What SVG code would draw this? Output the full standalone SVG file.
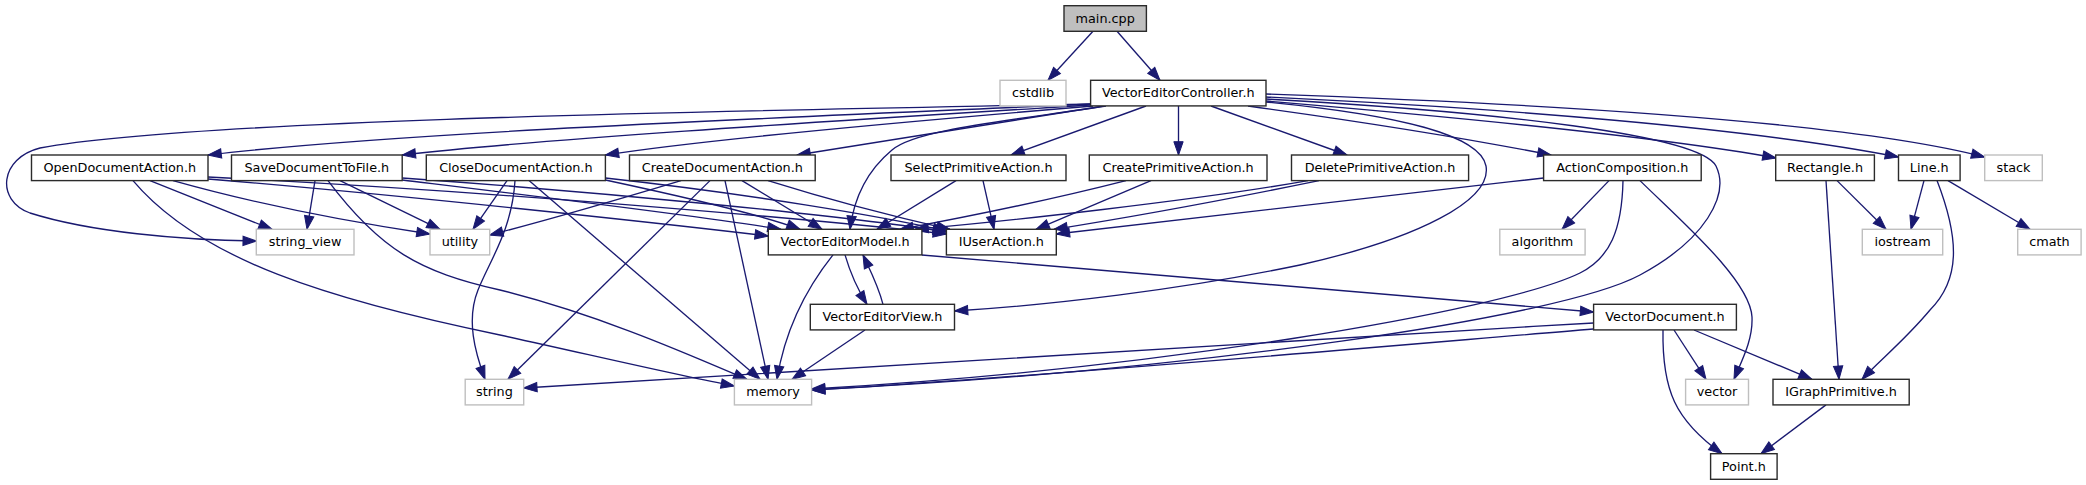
<svg xmlns="http://www.w3.org/2000/svg" width="2086" height="485" viewBox="0 0 2086 485">
<style>
.n rect{fill:#fff;stroke:#2b2b2b;stroke-width:1.4}
.x rect{fill:#fff;stroke:#bfbfbf;stroke-width:1.4}
.r rect{fill:#bfbfbf;stroke:#2b2b2b;stroke-width:1.4}
text{font-family:"DejaVu Sans","Liberation Sans",sans-serif;font-size:12.8px;fill:#000;text-anchor:middle}
#edges path{fill:none;stroke:#191970;stroke-width:1.33;marker-end:url(#a)}
</style>
<defs>
<marker id="a" markerUnits="userSpaceOnUse" markerWidth="16" markerHeight="12" refX="13.3" refY="4.67" orient="auto" overflow="visible">
<path d="M0,0L13.3,4.67L0,9.33z" fill="#191970" stroke="#191970" stroke-width="1"/>
</marker>
</defs>
<rect width="2086" height="485" fill="#fff"/>
<g id="edges">
<path d="M1093,31.3 L1048,80.3"/>
<path d="M1117,31.3 L1160,80.3"/>
<path d="M1091,104 C800,110 200,118 40,148 C0,158 -5,200 30,213 C90,232 180,240 256.3,241"/>
<path d="M1091,104 C800,117 400,132 208,155"/>
<path d="M1091,105 C850,120 550,138 402.2,155"/>
<path d="M1093,106 C900,122 700,140 605.4,155"/>
<path d="M1104,106 L797,155"/>
<path d="M1106,106 C1000,122 915,130 892,150 C862,175 853,205 850,229.3"/>
<path d="M1146,106 L1011,155"/>
<path d="M1178.5,106 L1178.5,155"/>
<path d="M1211,106 L1347,155"/>
<path d="M1248,106 C1350,120 1450,135 1551,155"/>
<path d="M1266,101 C1420,114 1650,135 1776,158"/>
<path d="M1266,97 C1500,108 1750,128 1898.5,157"/>
<path d="M1266,94 C1550,104 1850,122 1984.7,157"/>
<path d="M1266,102 C1400,115 1480,135 1486,166 C1492,200 1420,238 1300,265 C1180,290 1050,305 954.5,311"/>
<path d="M1266,99 C1500,112 1700,135 1716,166 C1730,195 1705,240 1640,275 C1560,318 1200,370 811.6,390"/>
<path d="M150,180.6 L272,229.3"/>
<path d="M173,180.6 C260,205 350,222 430,234"/>
<path d="M133,180.6 C200,260 330,300 500,335 C600,357 680,376 734.4,386"/>
<path d="M208,179 C400,195 650,222 768.3,236"/>
<path d="M208,177 C500,192 800,218 946.4,234"/>
<path d="M315,180.6 L307,229.3"/>
<path d="M340,180.6 L440,229.3"/>
<path d="M328,180.6 C380,250 420,272 500,290 C600,315 690,355 747,379.3"/>
<path d="M402.2,180 C550,198 700,216 781,229.3"/>
<path d="M402.2,178 C600,192 850,216 946.4,232"/>
<path d="M507,180.6 L473,229.3"/>
<path d="M515,180.6 C512,230 490,260 478,290 C466,320 475,352 485,379.3"/>
<path d="M529,180.6 L760,379.3"/>
<path d="M605.4,180 C680,196 760,214 800,229.3"/>
<path d="M605.4,178 C750,194 880,216 946.4,231"/>
<path d="M681,180.6 C600,205 540,222 489.7,235"/>
<path d="M710,180.6 L508,379.3"/>
<path d="M725,180.6 L768,379.3"/>
<path d="M742,180.6 L822,229.3"/>
<path d="M768,180.6 C830,200 900,218 950,229.3"/>
<path d="M956,180.6 L877,229.3"/>
<path d="M983,180.6 L994,229.3"/>
<path d="M1126,180.6 C1050,200 950,220 900,229.3"/>
<path d="M1151,180.6 L1036,229.3"/>
<path d="M1308,180.6 C1200,200 1000,222 915,229.3"/>
<path d="M1319,180.6 C1200,205 1100,222 1054,229.3"/>
<path d="M1543.6,178 C1350,200 1150,222 1056.3,234"/>
<path d="M1609,180.6 L1562,229.3"/>
<path d="M1623,180.6 C1622,230 1610,258 1580,273 C1500,312 1150,370 811.6,389"/>
<path d="M1640,180.6 C1680,220 1750,280 1752,317 C1753,340 1742,360 1734,379.3"/>
<path d="M1837,180.6 L1886,229.3"/>
<path d="M1826,180.6 L1839,379.3"/>
<path d="M1924,180.6 L1911,229.3"/>
<path d="M1948,180.6 L2030,229.3"/>
<path d="M1937,180.6 C1960,240 1960,280 1930,310 C1905,340 1880,360 1862,379.3"/>
<path d="M833,254.9 C805,290 785,330 777,379.3"/>
<path d="M845,254.9 C850,272 858,290 867,304.3"/>
<path d="M921.9,255 L1593.6,312"/>
<path d="M883,304.3 C878,285 870,270 863,254.9"/>
<path d="M865,330 L792,379.3"/>
<path d="M1593.6,323 C1200,345 800,372 523.7,388"/>
<path d="M1593.6,329 C1400,345 1000,380 811.6,390"/>
<path d="M1674,330 L1706,379.3"/>
<path d="M1694,330 L1812,379.3"/>
<path d="M1663,330 C1662,390 1675,420 1722,453.7"/>
<path d="M1826,404.9 L1761,453.7"/>
</g>
<g id="main_cpp" class="r"><rect x="1064" y="5.7" width="82.4" height="25.6"/><text x="1105.2" y="22.7">main.cpp</text></g>
<g id="cstdlib" class="x"><rect x="1000" y="80.3" width="66" height="25.6"/><text x="1033" y="97.3">cstdlib</text></g>
<g id="VectorEditorController_h" class="n"><rect x="1090.6" y="80.3" width="175.4" height="25.6"/><text x="1178.3" y="97.3">VectorEditorController.h</text></g>
<g id="OpenDocumentAction_h" class="n"><rect x="31.5" y="155" width="176.5" height="25.6"/><text x="119.75" y="172">OpenDocumentAction.h</text></g>
<g id="SaveDocumentToFile_h" class="n"><rect x="231.5" y="155" width="170.7" height="25.6"/><text x="316.85" y="172">SaveDocumentToFile.h</text></g>
<g id="CloseDocumentAction_h" class="n"><rect x="426.3" y="155" width="179.1" height="25.6"/><text x="515.85" y="172">CloseDocumentAction.h</text></g>
<g id="CreateDocumentAction_h" class="n"><rect x="629.5" y="155" width="185.7" height="25.6"/><text x="722.35" y="172">CreateDocumentAction.h</text></g>
<g id="SelectPrimitiveAction_h" class="n"><rect x="891" y="155" width="175" height="25.6"/><text x="978.5" y="172">SelectPrimitiveAction.h</text></g>
<g id="CreatePrimitiveAction_h" class="n"><rect x="1089.3" y="155" width="177.7" height="25.6"/><text x="1178.15" y="172">CreatePrimitiveAction.h</text></g>
<g id="DeletePrimitiveAction_h" class="n"><rect x="1291.5" y="155" width="177.1" height="25.6"/><text x="1380.05" y="172">DeletePrimitiveAction.h</text></g>
<g id="ActionComposition_h" class="n"><rect x="1543.6" y="155" width="157.6" height="25.6"/><text x="1622.4" y="172">ActionComposition.h</text></g>
<g id="Rectangle_h" class="n"><rect x="1775.7" y="155" width="98.7" height="25.6"/><text x="1825.05" y="172">Rectangle.h</text></g>
<g id="Line_h" class="n"><rect x="1898.5" y="155" width="61.6" height="25.6"/><text x="1929.3" y="172">Line.h</text></g>
<g id="stack" class="x"><rect x="1984.7" y="155" width="57.6" height="25.6"/><text x="2013.5" y="172">stack</text></g>
<g id="string_view" class="x"><rect x="256.3" y="229.3" width="97.7" height="25.6"/><text x="305.15" y="246.3">string_view</text></g>
<g id="utility" class="x"><rect x="430" y="229.3" width="59.7" height="25.6"/><text x="459.85" y="246.3">utility</text></g>
<g id="VectorEditorModel_h" class="n"><rect x="768.3" y="229.3" width="153.6" height="25.6"/><text x="845.1" y="246.3">VectorEditorModel.h</text></g>
<g id="IUserAction_h" class="n"><rect x="946.4" y="229.3" width="109.9" height="25.6"/><text x="1001.35" y="246.3">IUserAction.h</text></g>
<g id="algorithm" class="x"><rect x="1499.8" y="229.3" width="85.3" height="25.6"/><text x="1542.45" y="246.3">algorithm</text></g>
<g id="iostream" class="x"><rect x="1862.3" y="229.3" width="80.4" height="25.6"/><text x="1902.5" y="246.3">iostream</text></g>
<g id="cmath" class="x"><rect x="2017.7" y="229.3" width="63.4" height="25.6"/><text x="2049.4" y="246.3">cmath</text></g>
<g id="VectorEditorView_h" class="n"><rect x="810.3" y="304.3" width="144.2" height="25.6"/><text x="882.4" y="321.3">VectorEditorView.h</text></g>
<g id="VectorDocument_h" class="n"><rect x="1593.6" y="304.3" width="142.8" height="25.6"/><text x="1665" y="321.3">VectorDocument.h</text></g>
<g id="string" class="x"><rect x="465.2" y="379.3" width="58.5" height="25.6"/><text x="494.45" y="396.3">string</text></g>
<g id="memory" class="x"><rect x="734.4" y="379.3" width="77.2" height="25.6"/><text x="773" y="396.3">memory</text></g>
<g id="vector" class="x"><rect x="1685.6" y="379.3" width="62.9" height="25.6"/><text x="1717.05" y="396.3">vector</text></g>
<g id="IGraphPrimitive_h" class="n"><rect x="1773" y="379.3" width="136.2" height="25.6"/><text x="1841.1" y="396.3">IGraphPrimitive.h</text></g>
<g id="Point_h" class="n"><rect x="1710.6" y="453.7" width="66.5" height="25.6"/><text x="1743.85" y="470.7">Point.h</text></g>
</svg>
